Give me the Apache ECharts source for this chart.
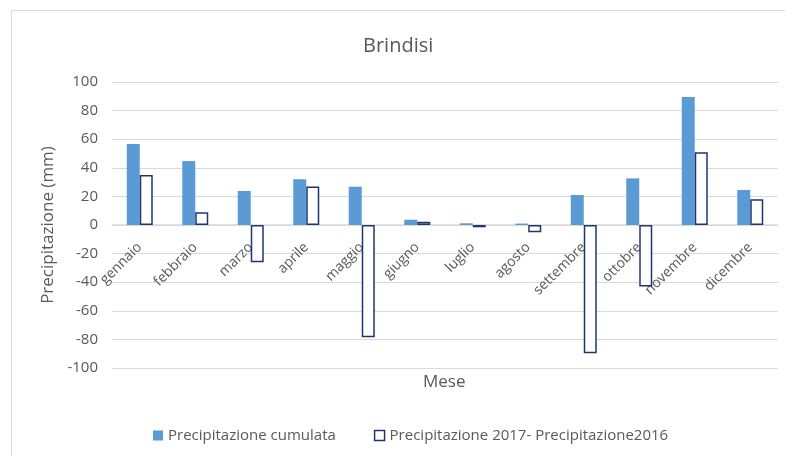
<!DOCTYPE html>
<html>
<head>
<meta charset="utf-8">
<script src="https://cdn.jsdelivr.net/npm/echarts@6/dist/echarts.min.js"></script>
<style>
  html, body { margin: 0; padding: 0; background: #fff; }
  #frame { position: absolute; left: 11px; top: 10px; width: 800px; height: 460px; border-left: 1px solid #d9d9d9; border-top: 1px solid #d9d9d9; }
  #chart { position: absolute; left: 0; top: 0; width: 785px; height: 456px; }
</style>
</head>
<body>
<div id="frame"></div>
<div id="chart"></div>
<script>
const months = ['gennaio', 'febbraio', 'marzo', 'aprile', 'maggio', 'giugno', 'luglio', 'agosto', 'settembre', 'ottobre', 'novembre', 'dicembre'];
const cumulata = [56.6, 44.7, 23.8, 32, 26.8, 3.7, 1.2, 1, 21, 32.6, 89.5, 24.5];
const diff = [35, 8.9, -26, 27, -78.5, 2.3, -1.6, -5, -89.7, -43, 50.8, 18];

const textColor = '#595959';
const font = 'Open Sans';

const chart = echarts.init(document.getElementById('chart'));
chart.setOption({
    textStyle: { fontFamily: font },
    title: {
        text: 'Brindisi',
        left: 358,
        top: 31,
        textStyle: { fontFamily: font, fontSize: 20, fontWeight: 'normal', color: textColor }
    },
    legend: {
        bottom: 8,
        left: 148,
        itemWidth: 10,
        itemHeight: 10,
        itemGap: 38,
        itemStyle: { borderWidth: 1.5 },
        textStyle: { fontFamily: font, fontSize: 15, color: textColor },
        data: [
            { name: 'Precipitazione cumulata', icon: 'rect' },
            { name: 'Precipitazione 2017- Precipitazione2016', icon: 'rect' }
        ]
    },
    grid: { left: 112, right: 7, top: 82, bottom: 88, containLabel: false, outerBoundsMode: 'none' },
    xAxis: [
        {
            type: 'category',
            data: months,
            axisLine: { onZero: true, lineStyle: { color: '#d9d9d9', width: 1.5 } },
            axisTick: { show: false },
            axisLabel: { show: false }
        },
        {
            // label-only axis sitting on the zero line
            type: 'category',
            data: months,
            position: 'bottom',
            offset: -143,
            axisLine: { show: false, onZero: false },
            axisTick: { show: false },
            axisLabel: { rotate: 45, color: textColor, fontSize: 14, margin: 20, interval: 0 }
        }
    ],
    yAxis: {
        type: 'value',
        min: -100,
        max: 100,
        interval: 20,
        name: 'Precipitazione (mm)',
        nameLocation: 'middle',
        nameGap: 54,
        nameTextStyle: { fontFamily: font, fontSize: 17, color: textColor },
        axisLine: { show: false },
        axisTick: { show: false },
        axisLabel: { color: textColor, fontSize: 15, margin: 14 },
        splitLine: { lineStyle: { color: '#d9d9d9', width: 1 } }
    },
    graphic: [{
        type: 'text',
        left: 423,
        top: 374,
        style: { text: 'Mese', fontFamily: font, fontSize: 17, fill: textColor }
    }],
    series: [
        {
            name: 'Precipitazione cumulata',
            type: 'bar',
            data: cumulata,
            barWidth: 13,
            barGap: '0%',
            itemStyle: { color: '#5b9bd5' }
        },
        {
            name: 'Precipitazione 2017- Precipitazione2016',
            type: 'bar',
            data: diff,
            barWidth: 13,
            barGap: '0%',
            itemStyle: { color: '#ffffff', borderColor: '#1f3770', borderWidth: 1.5 }
        }
    ]
});
</script>
</body>
</html>
